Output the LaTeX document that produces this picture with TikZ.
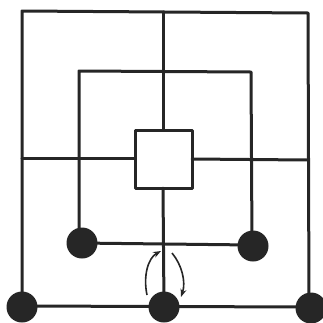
\documentclass[tikz,border=0pt]{standalone}
\usetikzlibrary{arrows.meta}
\begin{document}
\begin{tikzpicture}[x=1pt,y=-1pt,
  board/.style={line width=3pt,line cap=round,line join=round,draw=black!85},
  piece/.style={circle,fill=black!85,minimum size=31pt,inner sep=0pt},
  move/.style={line width=1.6pt,draw=black!85,-{Stealth[length=8pt,width=6pt]}}]
\useasboundingbox (0,0) rectangle (323,322);
\clip (0,0) rectangle (323,322);
% corners as coordinates
\coordinate (o1) at (22,11);
\coordinate (o2) at (308,13);
\coordinate (o3) at (309,307);
\coordinate (o4) at (22,306);
\coordinate (m1) at (79,71);
\coordinate (m2) at (251,72);
\coordinate (m3) at (252,245);
\coordinate (m4) at (79,243);
\coordinate (i1) at (135,130);
\coordinate (i2) at (192,130);
\coordinate (i3) at (192,188);
\coordinate (i4) at (135,188);
\coordinate (ct) at (163,12);
\coordinate (cit) at (163,130);
\coordinate (cib) at (163,188);
\coordinate (cb) at (164,307);
\coordinate (cm) at (163,245);
\coordinate (lo) at (22,158);
\coordinate (li) at (135,158);
\coordinate (ri) at (192,159);
\coordinate (ro) at (308,160);
% outer square
\draw[board] (o1) -- (o2) -- (o3) -- (o4) -- cycle;
% middle square
\draw[board] (m1) -- (m2) -- (m3) -- (m4) -- cycle;
% inner square
\draw[board] (i1) -- (i2) -- (i3) -- (i4) -- cycle;
% cross lines
\draw[board] (ct) -- (cit);
\draw[board] (cib) -- (cb);
\draw[board] (lo) -- (li);
\draw[board] (ri) -- (ro);
% pieces
\node[piece] (p1) at (22,307) {};
\node[piece] (p2) at (164,307) {};
\node[piece] (p3) at (311,308) {};
\node[piece] (p4) at (82,243) {};
\node[piece] (p5) at (253,246) {};
% move arrows
\coordinate (a1s) at (147,295);
\coordinate (a1e) at (161,251);
\coordinate (a2s) at (172,253);
\coordinate (a2e) at (181,297);
\draw[move] (a1s) .. controls (143,276) and (148,258) .. (a1e);
\draw[move] (a2s) .. controls (182,265) and (186,282) .. (a2e);
\end{tikzpicture}
\end{document}
